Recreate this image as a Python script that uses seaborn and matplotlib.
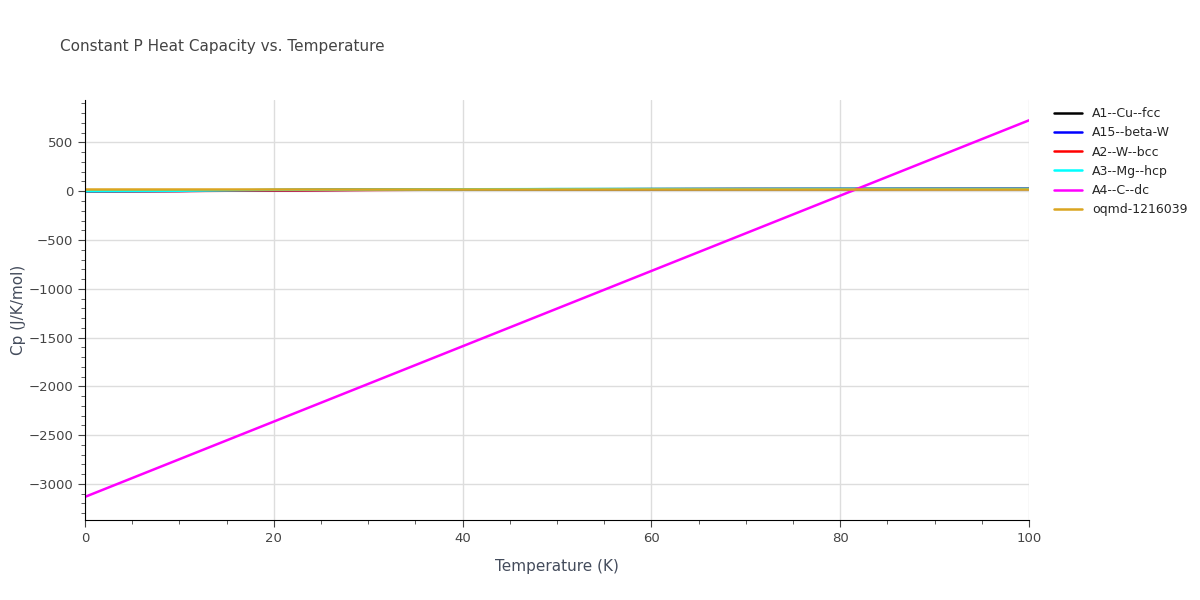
import pandas as pd
import matplotlib.pyplot as plt
import seaborn as sns
from matplotlib.ticker import MultipleLocator

# Cp vs temperature
temps = [0, 10, 20, 30, 40, 50, 60, 70, 80, 90, 100]
cu_fcc = [0, 4, 12, 16, 19, 21, 22, 23, 23, 24, 24]
beta_w = [0, 3, 10, 15, 18, 20, 21, 22, 23, 23, 24]
w_bcc = [0, 2, 8, 13, 17, 19, 21, 22, 22, 23, 23]
mg_hcp = [0, 5, 14, 18, 20, 22, 23, 23, 24, 24, 24]
c_dc = [-3133, -2747, -2361, -1975, -1589, -1203, -817, -431, -45, 341, 727]
oqmd = [28, 28, 28, 28, 28, 28, 28, 28, 28, 28, 28]

names = ["A1--Cu--fcc", "A15--beta-W", "A2--W--bcc", "A3--Mg--hcp", "A4--C--dc", "oqmd-1216039"]
colors = ["black", "blue", "red", "cyan", "magenta", "goldenrod"]


def main():
    rows = []
    for name, vals in zip(names, [cu_fcc, beta_w, w_bcc, mg_hcp, c_dc, oqmd]):
        for t, v in zip(temps, vals):
            rows.append({"T": t, "Cp": v, "phase": name})
    df = pd.DataFrame(rows)

    sns.set_style("white")
    fig = plt.figure(figsize=(12, 6), dpi=100)
    ax = fig.add_axes([0.0708, 0.1333, 0.7867, 0.7])
    sns.lineplot(data=df, x="T", y="Cp", hue="phase", palette=colors, ax=ax, linewidth=1.8)

    ax.set_xlim(0, 100)
    ax.set_ylim(-3370, 935)
    ax.xaxis.set_major_locator(MultipleLocator(20))
    ax.xaxis.set_minor_locator(MultipleLocator(5))
    ax.yaxis.set_major_locator(MultipleLocator(500))
    ax.yaxis.set_minor_locator(MultipleLocator(100))
    ax.grid(True, which="major", color="#dddddd", linewidth=1)
    ax.tick_params(which="both", direction="out", colors="#444444", labelsize=9.5, left=True, bottom=True)
    ax.tick_params(which="major", length=5)
    ax.tick_params(which="minor", length=3)
    for s in ["top", "right"]:
        ax.spines[s].set_visible(False)
    for s in ["left", "bottom"]:
        ax.spines[s].set_color("black")
    ax.set_xlabel("Temperature (K)", fontsize=11, color="#444c5c", labelpad=10)
    ax.set_ylabel("Cp (J/K/mol)", fontsize=11, color="#444c5c", labelpad=2)
    fig.text(0.05, 0.915, "Constant P Heat Capacity vs. Temperature", fontsize=11, color="#444444")
    ax.legend(loc="upper left", bbox_to_anchor=(1.015, 1.01), frameon=False, fontsize=9, title=None,
              handlelength=2.2, labelspacing=0.5)
    fig.savefig("out.png")


if __name__ == '__main__':
    main()
